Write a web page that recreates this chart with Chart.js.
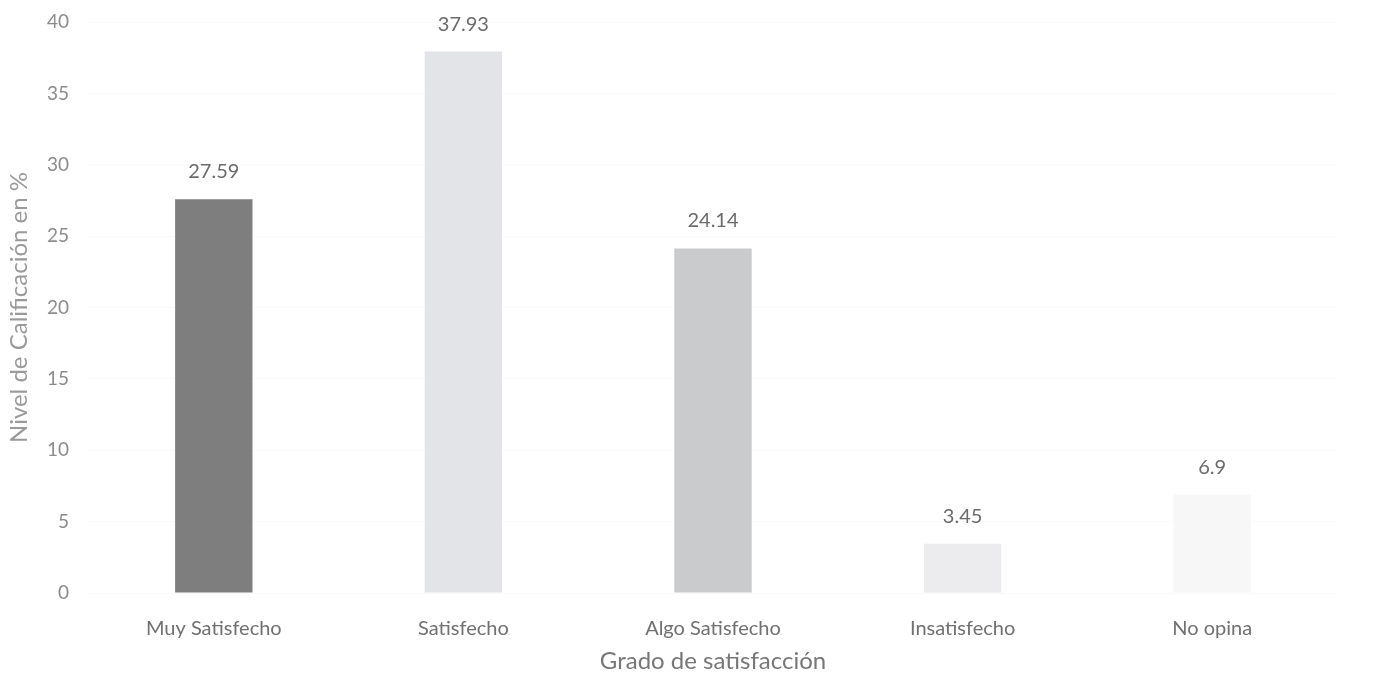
<!DOCTYPE html>
<html><head><meta charset="utf-8">
<script src="https://cdn.jsdelivr.net/npm/chart.js@4"></script>
<style>html,body{margin:0;padding:0;background:#fff}#w{width:1375px;height:677px}</style>
</head><body><div id="w"><canvas id="c"></canvas></div>
<script>
const categories = ["Muy Satisfecho","Satisfecho","Algo Satisfecho","Insatisfecho","No opina"];
const values = [27.59, 37.93, 24.14, 3.45, 6.9];
const barColors = ["#7e7e7f","#e3e4e7","#cacbcd","#ececef","#f7f7f8"];
const yTicks = [0,5,10,15,20,25,30,35,40];

const font = "Lato, 'Open Sans', sans-serif";
const labelPlugin = {
  id: 'vals',
  afterDatasetsDraw(chart){
    const ctx = chart.ctx;
    const meta = chart.getDatasetMeta(0);
    ctx.save();
    ctx.fillStyle = '#6b6b6b';
    ctx.font = "20px " + font;
    ctx.textAlign = 'center';
    ctx.textBaseline = 'alphabetic';
    meta.data.forEach((bar,i)=>{
      ctx.fillText(String(values[i]), bar.x, bar.y - 21);
    });
    ctx.restore();
  }
};
new Chart(document.getElementById('c'), {
  type: 'bar',
  data: { labels: categories, datasets: [{ data: values, backgroundColor: barColors, categoryPercentage: 1, barPercentage: 0.31 }] },
  options: {
    responsive: true, maintainAspectRatio: false, animation: false,
    layout: { padding: { top: 22, right: 38, left: 0, bottom: 0 } },
    plugins: { legend: { display: false }, tooltip: { enabled: false } },
    scales: {
      x: {
        grid: { display: false }, border: { display: false },
        ticks: { color: '#707070', font: { family: font, size: 20 }, padding: 16 },
        title: { display: true, text: 'Grado de satisfacción', color: '#777', font: { family: font, size: 24 }, padding: { top: 0, bottom: 1 } },
        afterFit(s){ s.height = 84; s.paddingLeft = 0; s.paddingRight = 0; }
      },
      y: {
        min: 0, max: 40,
        afterBuildTicks(s){ s.ticks = yTicks.map(v=>({value:v})); },
        grid: { color: 'rgba(0,0,0,0.02)', drawTicks: false }, border: { display: false },
        ticks: { color: '#8c8c8c', font: { family: font, size: 19 }, padding: 20 },
        title: { display: true, text: 'Nivel de Calificación en %', color: '#9a9a9a', font: { family: font, size: 24 }, padding: { top: 5, bottom: 4 } },
        afterFit(s){ s.width = 89; s.paddingTop = 0; s.paddingBottom = 0; }
      }
    }
  },
  plugins: [labelPlugin]
});
</script></body></html>
